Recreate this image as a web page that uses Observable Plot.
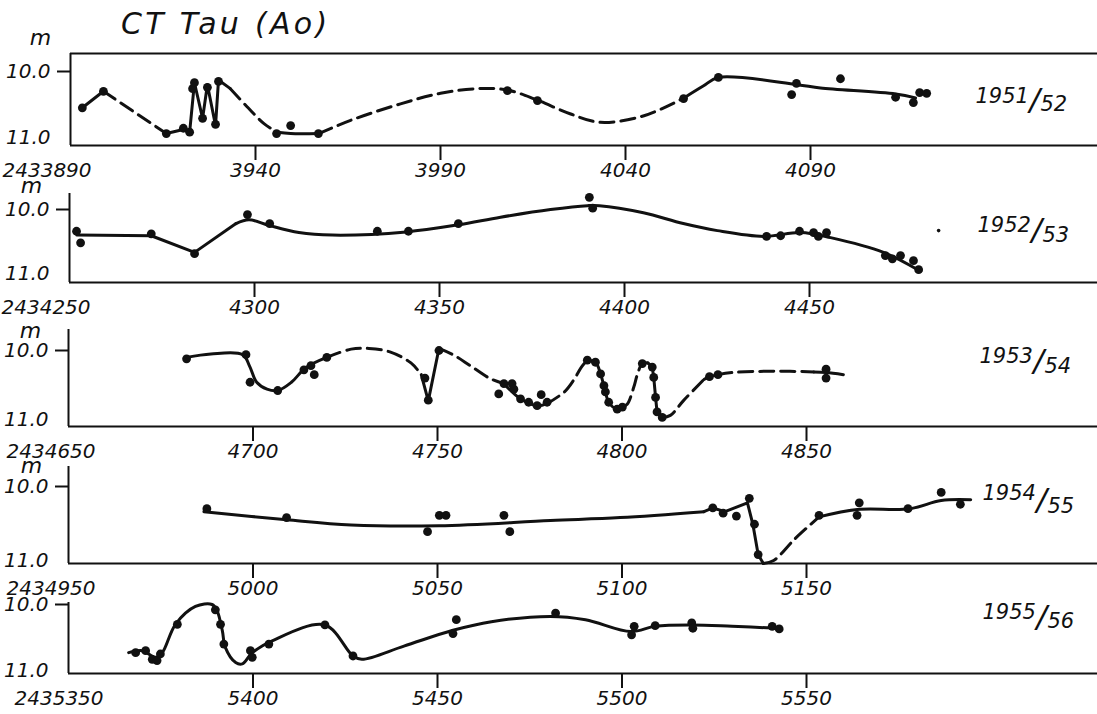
<!DOCTYPE html>
<html>
<head>
<meta charset="utf-8">
<script src="https://cdn.jsdelivr.net/npm/d3@7"></script>
<script src="https://cdn.jsdelivr.net/npm/@observablehq/plot@0.6"></script>
<style>
  html, body { margin: 0; padding: 0; background: #fff; }
  #wrap { position: relative; width: 1097px; height: 714px; overflow: hidden; background: #fff; }
  #wrap svg { position: absolute; left: 0; top: 0; }
  #title { position: absolute; left: 121px; top: 9px; font-family: "DejaVu Sans", sans-serif; font-style: italic;
           font-size: 30px; line-height: 30px; letter-spacing: 3.3px; color: #111; white-space: nowrap; }
</style>
</head>
<body>
<div id="wrap"><div id="title">CT Tau (Ao)</div></div>
<script>
// ---------------- tick values and labels ----------------
const p1Ticks = [3890, 3940, 3990, 4040, 4090];
const p2Ticks = [4250, 4300, 4350, 4400, 4450];
const p3Ticks = [4650, 4700, 4750, 4800, 4850];
const p4Ticks = [4950, 5000, 5050, 5100, 5150];
const p5Ticks = [5350, 5400, 5450, 5500, 5550];
const jdPrefix = "243";
const magTicks = [10, 11];
const magTickLabels = ["10.0", "11.0"];
const magUnit = "m";
const yearMain = ["1951", "1952", "1953", "1954", "1955"];
const yearSub = ["52", "53", "54", "55", "56"];

// ---------------- 1951/52 ----------------
const p1Obs = [[3893.2,10.55],[3898.9,10.30],[3915.9,10.94],[3920.5,10.86],[3922.2,10.92],[3923.0,10.26],[3923.5,10.17],
  [3925.7,10.71],[3927.0,10.24],[3929.2,10.80],[3930.0,10.15],[3945.7,10.94],[3949.5,10.82],[3957.0,10.94],
  [4008.1,10.29],[4016.2,10.44],[4055.7,10.41],[4065.1,10.09],[4084.9,10.35],[4086.2,10.18],[4098.1,10.11],
  [4113.0,10.39],[4117.8,10.47],[4119.5,10.32],[4121.4,10.33]];
const p1a = [[3893.2,10.55],[3898.9,10.30]];
const p1b = [[3898.9,10.30],[3915.9,10.94]];
const p1c = [[3915.9,10.94],[3920.5,10.88],[3922.2,10.92],[3923.5,10.17],[3925.7,10.71],[3927.0,10.20],[3929.2,10.82],[3930.0,10.13],[3933.2,10.26]];
const p1d = [[3933.2,10.26],[3938.0,10.55],[3942.3,10.79],[3945.9,10.92]];
const p1e = [[3945.9,10.92],[3949.5,10.94],[3957.1,10.94]];
const p1f = [[3957.1,10.94],[3965.7,10.74],[3979.2,10.49],[3990.0,10.33],[4000.0,10.26],[4008.0,10.28],[4016.0,10.43],
  [4025.0,10.64],[4033.2,10.77],[4045.0,10.67],[4055.8,10.40]];
const p1g = [[4055.8,10.40],[4061.0,10.22],[4065.1,10.09],[4086.4,10.20],[4092.7,10.25],[4113.0,10.34],[4118.4,10.40]];

// ---------------- 1952/53 ----------------
const p2Obs = [[4251.9,10.34],[4253.0,10.52],[4272.1,10.38],[4283.8,10.69],[4298.1,10.08],[4304.1,10.22],[4333.2,10.34],
  [4341.6,10.34],[4355.1,10.22],[4390.5,9.81],[4391.4,9.98],[4438.4,10.42],[4442.2,10.41],[4447.3,10.34],[4451.1,10.36],
  [4452.4,10.42],[4454.6,10.36],[4470.5,10.72],[4472.4,10.77],[4474.6,10.72],[4478.1,10.80],[4479.5,10.94]];
const p2Speck = [[4484.9,10.33]];
const p2a = [[4252.0,10.40],[4272.1,10.41],[4283.8,10.67],[4295.0,10.22]];
const p2b = [[4295.0,10.22],[4298.5,10.16],[4304.0,10.25],[4312.0,10.36],[4321.0,10.40],[4341.0,10.35],[4355.0,10.24],
  [4366.5,10.12],[4380.0,10.00],[4390.0,9.94],[4393.2,9.94],[4405.1,10.05],[4415.9,10.22],[4425.1,10.33],[4437.6,10.42],
  [4447.6,10.36],[4455.7,10.44],[4470.0,10.67],[4479.5,10.95]];

// ---------------- 1953/54 ----------------
const p3Obs = [[4682.0,10.12],[4698.1,10.06],[4699.2,10.46],[4706.7,10.58],[4713.8,10.28],[4715.7,10.22],[4716.6,10.35],
  [4720.0,10.10],[4746.6,10.40],[4747.5,10.72],[4750.4,10.00],[4766.6,10.63],[4768.0,10.48],[4770.2,10.48],[4770.7,10.56],
  [4772.5,10.70],[4774.7,10.75],[4777.0,10.80],[4778.1,10.64],[4779.7,10.75],[4790.6,10.14],[4792.8,10.17],[4794.2,10.34],
  [4795.1,10.51],[4795.5,10.60],[4796.4,10.75],[4798.7,10.85],[4800.1,10.82],[4805.5,10.19],[4808.2,10.24],[4808.6,10.39],
  [4809.1,10.68],[4809.5,10.89],[4810.9,10.97],[4823.7,10.38],[4826.0,10.35],[4855.3,10.27],[4855.3,10.40]];
const p3a = [[4682.0,10.10],[4688.6,10.05],[4697.2,10.06],[4699.1,10.23],[4701.0,10.46],[4703.8,10.56],[4706.7,10.58],
  [4710.4,10.46],[4714.3,10.25],[4720.0,10.10]];
const p3b = [[4720.0,10.10],[4726.6,9.98],[4731.4,9.97],[4737.1,10.02],[4742.8,10.18],[4745.6,10.35]];
const p3c = [[4745.6,10.35],[4747.5,10.73],[4750.4,9.97]];
const p3d = [[4750.4,9.97],[4754.5,10.07],[4758.9,10.22],[4764.4,10.41],[4768.0,10.48]];
const p3e = [[4768.0,10.48],[4772.5,10.70],[4777.0,10.80],[4779.7,10.77]];
const p3f = [[4779.7,10.77],[4784.4,10.60],[4786.9,10.43],[4789.0,10.24],[4790.6,10.14]];
const p3g = [[4790.6,10.14],[4792.8,10.17],[4794.2,10.34],[4795.5,10.60],[4796.4,10.75],[4798.7,10.85],[4800.1,10.82]];
const p3h = [[4800.1,10.82],[4801.4,10.78],[4803.2,10.53],[4804.1,10.36],[4805.5,10.19],[4807.0,10.18]];
const p3i = [[4807.0,10.18],[4808.2,10.24],[4808.6,10.39],[4809.1,10.68],[4809.5,10.89],[4810.9,10.97]];
const p3j = [[4810.9,10.97],[4813.1,10.94],[4816.6,10.73],[4822.2,10.42]];
const p3k = [[4822.2,10.42],[4823.7,10.38],[4826.0,10.35]];
const p3l = [[4826.0,10.35],[4829.8,10.32],[4841.1,10.30],[4852.0,10.31]];
const p3m = [[4852.0,10.31],[4855.3,10.32],[4860.0,10.35]];

// ---------------- 1954/55 ----------------
const p4Obs = [[4987.5,10.30],[5009.1,10.42],[5047.3,10.61],[5050.5,10.39],[5052.3,10.39],[5068.0,10.39],[5069.6,10.61],
  [5124.6,10.29],[5127.4,10.36],[5131.0,10.40],[5134.5,10.16],[5135.9,10.51],[5136.9,10.92],[5153.4,10.39],[5163.7,10.39],
  [5164.3,10.22],[5177.5,10.30],[5186.5,10.08],[5191.7,10.24]];
const p4a = [[4986.7,10.34],[5009.1,10.45],[5026.6,10.52],[5050.4,10.53],[5080.6,10.46],[5099.5,10.42],[5122.2,10.34]];
const p4b = [[5122.2,10.34],[5124.6,10.29],[5127.9,10.34],[5134.0,10.22],[5135.5,10.52],[5136.9,10.92],[5138.3,11.04]];
const p4c = [[5138.3,11.04],[5141.1,11.00],[5146.8,10.71],[5153.4,10.41]];
const p4d = [[5153.4,10.41],[5163.8,10.31],[5178.0,10.30],[5186.5,10.19],[5194.5,10.18]];

// ---------------- 1955/56 ----------------
const p5Obs = [[5368.2,10.73],[5370.9,10.70],[5372.7,10.83],[5374.0,10.85],[5374.9,10.75],[5379.5,10.30],[5389.8,10.08],
  [5391.2,10.30],[5392.1,10.60],[5399.3,10.70],[5399.8,10.80],[5404.3,10.60],[5419.5,10.31],[5427.1,10.78],[5454.2,10.44],
  [5455.1,10.23],[5482.0,10.13],[5502.6,10.46],[5503.3,10.33],[5509.0,10.32],[5518.9,10.28],[5519.2,10.36],[5540.7,10.33],
  [5542.6,10.37]];
const p5a = [[5366.3,10.73],[5370.0,10.70],[5373.6,10.80],[5375.4,10.73],[5379.0,10.30],[5384.4,10.03],[5388.9,10.00],
  [5390.3,10.10],[5391.7,10.40],[5392.5,10.65],[5395.3,10.88],[5397.1,10.90],[5399.8,10.73],[5405.2,10.55],[5419.5,10.31],
  [5427.1,10.78],[5429.5,10.83],[5440.9,10.63],[5454.2,10.39],[5464.6,10.26],[5480.6,10.18],[5490.1,10.23],[5502.4,10.41],
  [5509.0,10.33],[5518.9,10.31],[5529.8,10.33],[5542.1,10.36]];

// ---------------- configuration (styles / layout) ----------------
const W = 1097, H = 714, ink = "#111";
const S = (d) => ({d, dash: false, curve: "catmull-rom"});
const SL = (d) => ({d, dash: false, curve: "linear"});
const D = (d) => ({d, dash: true, curve: "catmull-rom"});
const DL = (d) => ({d, dash: true, curve: "linear"});

const panels = [
  {ticks: p1Ticks, obs: p1Obs, specks: [], segs: [SL(p1a), DL(p1b), SL(p1c), D(p1d), S(p1e), D(p1f), S(p1g)],
   L: {left: 70, top: 53, bottom: 145, y10: 71, y11: 137, ppd: 3.7, topLine: true, first: 2, m: [40, 37], yr: [975, 96], sub: 8}},
  {ticks: p2Ticks, obs: p2Obs, specks: p2Speck, segs: [SL(p2a), S(p2b)],
   L: {left: 69, top: 193, bottom: 282, y10: 209, y11: 273, ppd: 3.7, first: 1, m: [31, 185], yr: [977, 225], sub: 10}},
  {ticks: p3Ticks, obs: p3Obs, specks: [], segs: [S(p3a), D(p3b), SL(p3c), D(p3d), S(p3e), D(p3f), S(p3g), D(p3h), SL(p3i), D(p3j), S(p3k), D(p3l), S(p3m)],
   L: {left: 68, top: 329, bottom: 426, y10: 350, y11: 419, ppd: 3.69, first: 6, m: [30, 330], yr: [979, 356], sub: 10}},
  {ticks: p4Ticks, obs: p4Obs, specks: [], segs: [S(p4a), SL(p4b), D(p4c), S(p4d)],
   L: {left: 68, top: 466, bottom: 563, y10: 486, y11: 560, ppd: 3.69, first: 6, m: [31, 465], yr: [982, 493], sub: 13}},
  {ticks: p5Ticks, obs: p5Obs, specks: [], segs: [S(p5a)],
   L: {left: 68, top: 602, bottom: 673, y10: 604, y11: 670, ppd: 3.69, first: 14, m: null, yr: [982, 612], sub: 9}}
];

const X = d => d[0], Y = d => d[1];
const wrap = document.getElementById("wrap");

panels.forEach((p, i) => {
  const L = p.L;
  const k = 1 / (L.y11 - L.y10);
  const magTop = 10 + (L.top - L.y10) * k;
  const magBot = 10 + (L.bottom - L.y10) * k;
  const x0 = p.ticks[0];
  const xEnd = x0 + (W - L.left) / L.ppd;
  const marks = [
    Plot.ruleX([x0], {y1: magTop, y2: magBot, stroke: ink, strokeWidth: 2}),
    Plot.ruleY([magBot], {x1: x0, x2: xEnd, stroke: ink, strokeWidth: 2}),
    Plot.ruleY([magTicks[0]], {x1: x0, x2: x0, insetLeft: -13, stroke: ink, strokeWidth: 2}),
    Plot.ruleX(p.ticks.slice(1), {y1: magBot, y2: magBot, insetBottom: -15, stroke: ink, strokeWidth: 2}),
    Plot.text(p.ticks.slice(1), {x: d => d, y: magBot, text: d => String(d), dy: 17, lineAnchor: "top", fontSize: 20}),
    Plot.text([x0], {x: d => d, y: magBot, text: d => jdPrefix + d, dy: 17, dx: L.first - L.left, textAnchor: "start", lineAnchor: "top", fontSize: 20}),
    Plot.text(magTicks, {x: x0, y: d => d, text: (d, j) => magTickLabels[j], dx: -20, textAnchor: "end", lineAnchor: "middle", fontSize: 20})
  ];
  if (L.topLine) marks.push(Plot.ruleY([magTop], {x1: x0, x2: xEnd, stroke: ink, strokeWidth: 2}));
  for (const s of p.segs) {
    marks.push(Plot.line(s.d, {x: X, y: Y, curve: s.curve, stroke: ink, strokeWidth: 3,
      strokeDasharray: s.dash ? "14,7" : null, strokeLinejoin: "round"}));
  }
  marks.push(Plot.dot(p.obs, {x: X, y: Y, r: 4.4, fill: ink}));
  if (p.specks.length) marks.push(Plot.dot(p.specks, {x: X, y: Y, r: 1.8, fill: ink}));
  if (L.m) marks.push(Plot.text([magUnit], {frameAnchor: "top-left", dx: L.m[0] - L.left, dy: L.m[1] - L.top,
    text: d => d, fontSize: 22, textAnchor: "middle", lineAnchor: "middle"}));
  // season label, drawn as "1951" + "/" + lowered "52"
  marks.push(Plot.text([yearMain[i]], {frameAnchor: "top-left", dx: L.yr[0] - L.left, dy: L.yr[1] - L.top,
    text: d => d, fontSize: 21, textAnchor: "start", lineAnchor: "middle"}));
  marks.push(Plot.text(["/"], {frameAnchor: "top-left", dx: L.yr[0] - L.left + 54, dy: L.yr[1] - L.top + L.sub / 2,
    text: d => d, fontSize: 31, textAnchor: "start", lineAnchor: "middle"}));
  marks.push(Plot.text([yearSub[i]], {frameAnchor: "top-left", dx: L.yr[0] - L.left + 65, dy: L.yr[1] - L.top + L.sub,
    text: d => d, fontSize: 21, textAnchor: "start", lineAnchor: "middle"}));

  const svg = Plot.plot({
    width: W, height: H,
    marginLeft: L.left, marginRight: 0, marginTop: L.top, marginBottom: H - L.bottom,
    x: {domain: [x0, xEnd], axis: null},
    y: {domain: [magTop, magBot], reverse: true, axis: null},
    style: "background: transparent; font-family: 'DejaVu Sans', sans-serif; font-style: italic; font-size: 20px; color: #111; overflow: visible;",
    marks
  });
  wrap.appendChild(svg);
});
</script>
</body>
</html>
